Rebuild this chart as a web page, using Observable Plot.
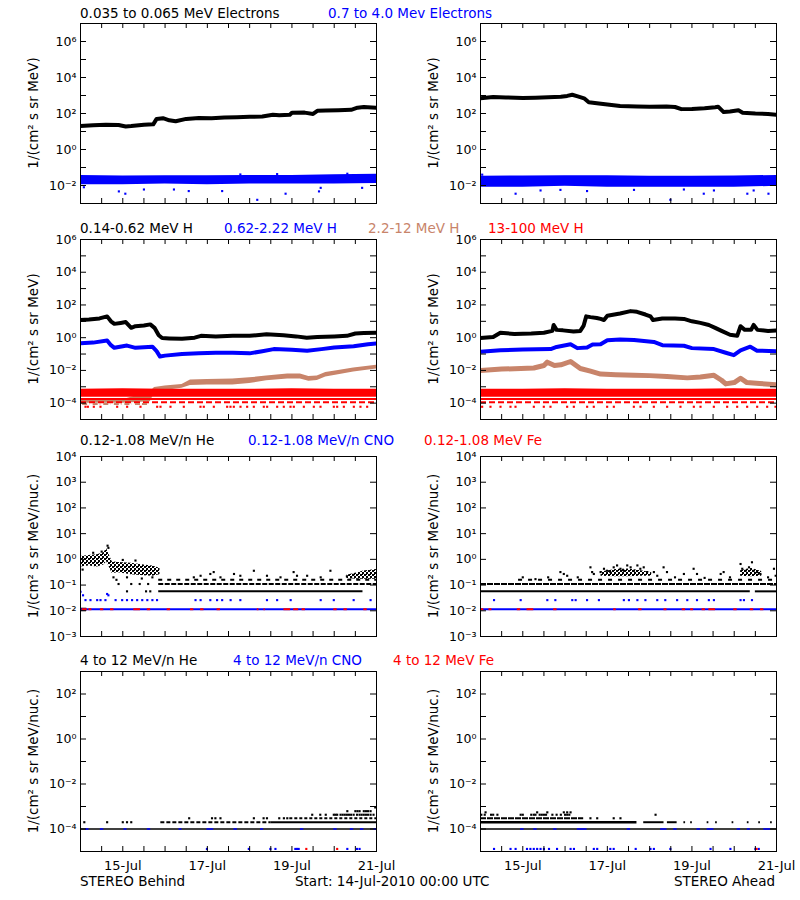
<!DOCTYPE html>
<html><head><meta charset="utf-8">
<script src="https://cdn.jsdelivr.net/npm/d3@7"></script>
<script src="https://cdn.jsdelivr.net/npm/@observablehq/plot@0.6"></script>
<style>
body{margin:0;background:#fff;}
#root{position:relative;width:800px;height:900px;background:#fff;overflow:hidden;}
</style></head><body>
<svg width="0" height="0" style="position:absolute">
  <defs>
    <pattern id="speckle" width="4" height="4" patternUnits="userSpaceOnUse">
      <rect x="0" y="0" width="2" height="2" fill="#000"/>
      <rect x="2" y="2" width="2" height="2" fill="#000"/>
      <rect x="2" y="0" width="1" height="1" fill="#000"/>
    </pattern>
  </defs>
</svg>
<div id="root"></div><script>
// ---------------- DATA ----------------
// time axis: days since 14-Jul-2010 00:00 UTC
const xMinorDays = [0.5,1,1.5,2,2.5,3,3.5,4,4.5,5,5.5,6,6.5];
const xLabelDays = [1,3,5,7];
const xLabelText = ["15-Jul","17-Jul","19-Jul","21-Jul"];

// Row 1 : electrons
const bLoEDays = [0,0.3,0.6,0.9,1.07,1.2,1.5,1.72,1.8,1.95,2.1,2.25,2.5,2.8,3.1,3.4,3.7,4.0,4.3,4.55,4.7,4.95,5.0,5.3,5.5,5.6,5.8,6.1,6.4,6.55,6.7,7.0];
const bLoEFlux = [20,22,24,23,19,20,24,25,50,55,42,37,50,57,55,60,62,65,68,85,80,85,110,112,95,140,145,150,160,210,230,205];
const bHiEDays = [0,1,2,3,4,5,6,7];
const bHiELo = [0.011,0.011,0.012,0.011,0.012,0.012,0.012,0.013];
const bHiEHi = [0.036,0.034,0.035,0.035,0.036,0.036,0.04,0.042];
const bHiEOutDays = [0.08,0.907,1.06,1.50,2.21,2.56,3.35,3.78,4.18,4.65,4.85,5.64,5.68,6.31,6.66];
const bHiEOutFlux = [0.008,0.0047,0.0035,0.006,0.006,0.0049,0.0049,0.041,0.0016,0.043,0.0035,0.0047,0.0074,0.045,0.0074];

const aLoEDays = [0,0.3,0.6,1.0,1.3,1.6,1.9,2.05,2.17,2.3,2.45,2.56,2.8,3.0,3.3,3.7,4.0,4.4,4.6,4.75,5.0,5.3,5.55,5.62,5.75,5.9,6.1,6.2,6.5,6.8,7.0];
const aLoEFlux = [700,820,780,720,760,800,850,950,1100,900,700,420,360,320,260,245,240,245,230,175,180,195,225,240,120,130,150,110,100,95,85];
const aHiEDays = [0,1,2,3,4,5,6,7];
const aHiELo = [0.008,0.008,0.009,0.008,0.008,0.008,0.008,0.009];
const aHiEHi = [0.033,0.034,0.035,0.035,0.033,0.033,0.034,0.036];
const aHiEOutDays = [0.04,0.83,1.42,1.89,2.52,3.63,4.49,4.81,5.28,5.52,6.31,6.46,6.81];
const aHiEOutFlux = [0.04,0.0035,0.0053,0.0057,0.0049,0.0057,0.0016,0.006,0.0035,0.0053,0.0035,0.0053,0.0035];

// Row 2 : protons
const bH1Days = [0,0.2,0.45,0.63,0.72,0.8,0.95,1.07,1.2,1.3,1.5,1.65,1.75,1.85,1.93,2.1,2.4,2.7,2.85,3.2,3.6,4.0,4.4,4.8,5.1,5.35,5.6,6.0,6.3,6.5,6.7,7.0];
const bH1Flux = [12,13,15,20,10,7,8,9,4,5,5.5,6.5,4,1.4,0.95,0.9,0.85,1.0,1.3,1.2,1.3,1.3,1.6,1.4,1.2,1.0,1.1,1.2,1.3,1.8,1.9,2.0];
const bH2Days = [0,0.3,0.63,0.72,0.8,1.0,1.1,1.3,1.7,1.8,1.88,2.0,2.4,2.8,3.2,3.6,4.0,4.3,4.57,5.0,5.36,5.7,6.0,6.46,6.8,7.0];
const bH2Flux = [0.45,0.5,0.68,0.35,0.24,0.3,0.33,0.24,0.28,0.15,0.07,0.08,0.1,0.11,0.12,0.12,0.11,0.15,0.2,0.18,0.16,0.2,0.25,0.3,0.4,0.45];
const bH3Days = [0,1.0,1.65,1.75,2.0,2.4,2.6,3.0,3.6,4.0,4.4,4.9,5.2,5.4,5.6,5.8,6.1,6.46,7.0];
const bH3Lo = [1e-4,1e-4,1.2e-4,4e-4,6e-4,8e-4,1.2e-3,1.3e-3,1.3e-3,1.6e-3,2.3e-3,3e-3,3e-3,2.2e-3,2.4e-3,4e-3,5.5e-3,8e-3,1.2e-2];
const bH3Hi = [1.6e-4,1.6e-4,5e-4,9e-4,1.1e-3,1.4e-3,2.6e-3,2.8e-3,3e-3,3.5e-3,4.5e-3,6e-3,6e-3,4.2e-3,4.5e-3,7.5e-3,1e-2,1.4e-2,2.1e-2];
const bH3LowStart = [0.05,0.3,0.55,0.8,1.05,1.3];
const bH3LowEnd   = [0.22,0.48,0.72,0.98,1.22,1.6];
const bH4Days = [0,1,2,3,4,5,6,7];
const bH4Lo = [2.3e-4,2.3e-4,2.3e-4,2.3e-4,2.3e-4,2.3e-4,2.3e-4,2.3e-4];
const bH4Hi = [7e-4,7.5e-4,7e-4,7e-4,7e-4,7.5e-4,7e-4,7e-4];
const bH4LowDays = [0.118,0.174,0.315,0.473,0.867,1.103,1.419,1.813,1.892,2.128,2.443,2.837,2.916,3.153,3.468,3.547,3.626,3.784,3.941,4.099,4.335,4.414,4.651,4.808,4.966,5.045,5.282,5.518,5.676,5.991,6.070,6.228,6.464,6.621,6.779];

const aH1Days = [0,0.3,0.47,0.8,1.2,1.5,1.7,1.73,1.8,1.95,2.2,2.36,2.44,2.5,2.6,2.75,2.84,2.92,3.0,3.3,3.55,3.7,3.9,4.02,4.08,4.3,4.6,4.81,5.0,5.2,5.4,5.55,5.7,5.9,6.07,6.15,6.25,6.4,6.46,6.55,6.8,7.0];
const aH1Flux = [0.95,1.1,2.0,1.7,1.8,2.0,2.6,6,3,2.8,2.4,2.6,5.5,20,18,16,14,12,22,30,42,38,26,20,12,15,15,14,10,8,6,4,2.6,1.5,1.3,5,3,3,6,3,2.6,2.8];
const aH2Days = [0,0.47,1.0,1.66,1.8,2.13,2.29,2.52,2.65,2.84,3.0,3.3,3.63,4.1,4.3,4.81,5.0,5.52,5.8,5.99,6.15,6.38,6.54,7.0];
const aH2Flux = [0.14,0.17,0.19,0.2,0.27,0.4,0.23,0.25,0.38,0.4,0.7,0.78,0.72,0.55,0.35,0.32,0.23,0.2,0.12,0.085,0.17,0.28,0.16,0.15];
const aH3Days = [0,0.5,1.26,1.5,1.58,1.75,1.9,2.13,2.36,2.6,2.84,3.2,3.63,4.0,4.41,4.89,5.2,5.52,5.7,5.8,6.0,6.15,6.3,6.6,7.0];
const aH3Flux = [0.0098,0.012,0.014,0.02,0.032,0.02,0.022,0.035,0.013,0.009,0.006,0.0055,0.005,0.0048,0.0042,0.0035,0.004,0.005,0.0025,0.0015,0.0018,0.0033,0.0018,0.0016,0.0013];
const aH4Days = [0,1,2,3,4,5,6,7];
const aH4Lo = [2.3e-4,2.3e-4,2.3e-4,2.3e-4,2.3e-4,2.3e-4,2.3e-4,2.3e-4];
const aH4Hi = [7e-4,7e-4,7.5e-4,7e-4,7e-4,7e-4,7.5e-4,7e-4];
const aH4LowDays = [0.039,0.236,0.473,0.709,0.828,1.261,1.497,1.655,2.049,2.207,2.522,2.679,2.995,3.153,3.626,3.784,4.099,4.414,4.729,5.045,5.203,5.518,5.833,6.070,6.306,6.543,6.779,6.976];
const hRedLevels = [1.8e-4, 1.15e-4, 6e-5, 9e-5];

// Row 3 : 0.12-1.08 MeV/n ions
const loIonLevels = [0.057, 0.11, 0.16, 0.026, 0.0115];
const bHeCloudDays = [0,0.2,0.4,0.55,0.62,0.68,0.75,0.9,1.2,1.5,1.7,1.88];
const bHeCloudLo = [0.5,0.55,0.5,0.6,0.8,0.5,0.28,0.3,0.25,0.23,0.22,0.25];
const bHeCloudHi = [1.3,1.4,1.5,1.8,2.6,1.5,0.8,0.75,0.7,0.6,0.55,0.45];
const bHeEndDays = [6.3,6.55,6.7,7.0];
const bHeEndLo = [0.18,0.17,0.17,0.17];
const bHeEndHi = [0.24,0.3,0.35,0.4];
const bHeDotDays = [0.05,0.3,0.5,0.64,0.66,0.78,0.85,1.0,1.1,1.3,1.45,1.7,0.9,1.2,1.4,1.6,1.1,1.55,1.65,2.68,2.84,3.07,3.15,3.31,3.63,3.78,4.1,4.41,4.73,5.04,5.12,5.36,5.68,5.91,6.3,6.4,6.45];
const bHeDotFlux = [0.4,1.8,2.0,3.4,2.8,0.2,0.16,0.95,0.2,0.9,0.18,0.2,0.11,0.11,0.11,0.11,0.057,0.057,0.057,0.2,0.23,0.27,0.32,0.2,0.27,0.23,0.36,0.23,0.2,0.32,0.23,0.23,0.2,0.36,0.22,0.2,0.25];
const bCnoDotDays = [0.118,0.236,0.394,0.473,0.59,0.83,0.985,1.10,1.22,1.34,1.46,1.58,1.70,1.81,2.72,2.84,3.07,3.23,3.35,3.55,3.78,4.41,4.65,4.97,5.68,5.99,6.46,6.86];
const bCnoExtraDays = [0.0,0.06,0.63,0.66];
const bCnoExtraFlux = [0.055,0.04,0.045,0.04];
const bFeStart = [0.04,0.2,0.47,0.71,1.26,1.58,2.05,2.6,2.84,3.23,4.18,4.34,4.81,5.04,5.24,5.99,6.23,6.7];
const bFeEnd   = [0.16,0.27,0.55,0.79,1.42,1.66,2.13,2.68,2.92,3.31,4.22,4.37,4.97,5.16,5.32,6.07,6.31,6.78];

const aHeDotDays = [1.89,1.97,2.05,2.60,2.64,2.68,2.84,2.92,2.99,3.07,3.15,3.23,3.31,3.39,3.47,3.55,3.63,3.71,3.78,3.86,3.94,4.10,4.18,4.33,4.41,4.81,5.04,5.12,5.68,5.75,6.15,6.19,6.27,6.35,6.42,6.46,6.54,6.62,6.94,6.98,1.0,1.3,1.6,2.3,4.6,5.3,5.9,6.8];
const aHeDotFlux = [0.32,0.27,0.23,0.49,0.32,0.27,0.32,0.43,0.36,0.32,0.49,0.58,0.43,0.36,0.58,0.49,0.36,0.58,0.43,0.49,0.32,0.32,0.23,0.49,0.32,0.27,0.43,0.27,0.27,0.32,0.66,0.43,0.36,0.49,0.77,0.36,0.32,0.27,0.43,0.23,0.2,0.17,0.2,0.2,0.2,0.19,0.2,0.2];
const aHeCloudDays = [2.85,3.2,3.5,3.8,4.05];
const aHeCloudLo = [0.22,0.21,0.21,0.22,0.22];
const aHeCloudHi = [0.32,0.4,0.42,0.36,0.3];
const aHeCloud2Days = [6.15,6.4,6.65];
const aHeCloud2Lo = [0.22,0.21,0.22];
const aHeCloud2Hi = [0.36,0.45,0.34];
const aCnoDotDays = [0.32,0.95,1.58,1.77,2.17,2.25,2.52,2.8,3.39,3.51,3.71,3.9,4.18,4.37,4.65,4.89,5.12,5.4,5.52,6.15,6.23,6.42];
const aFeStart = [0,0.2,0.87,1.1,1.73,3.15,3.74,4.34,4.77,4.97,5.24,5.4,5.99,6.38,6.62];
const aFeEnd   = [0.08,0.27,0.95,1.26,1.81,3.21,3.82,4.41,4.85,5.04,5.32,5.56,6.07,6.46,6.7];

// Row 4 : 4-12 MeV/n ions
const hiIonLevels = [1e-4, 2e-4, 3e-4, 4.3e-4, 6.2e-4, 1.3e-5, 5.5e-4];
const bHe4Lvl2Dots = [0.09,0.63,1.0,1.1,1.2];
const bHe4Lvl3Dots = [2.57,3.11,3.19,3.31,4.1,4.33,4.41,4.7,4.81,4.89];
const bHe4Lvl4Dots = [5.48,5.67,5.8,5.99,6.03,6.07,6.15,6.2,6.25,6.3,6.35,6.4,6.46,6.54,6.6,6.65,6.7,6.75,6.8,6.86,6.93];
const bHe4Lvl5Dots = [6.31,6.5,6.55,6.6,6.7,6.75,6.8,6.86];
const bHe4TopDays = [6.97];
const bHe4TopFlux = [9e-4];
const bCno4Start = [0.12,0.47,1.03,1.58,2.33,2.99,3.63,4.26,5.2,5.99,6.38,6.62,6.94];
const bCno4End   = [0.2,0.55,1.1,1.66,2.4,3.15,3.71,4.33,5.28,6.07,6.46,6.7,7.0];
const bCno4LowDays = [2.99,3.98,4.49,4.61,5.08,5.12,5.16,6.31,6.54,6.6];
const bFe4LowDays = [5.34,6.07];

const aHe4Lvl2Start = [3.86,4.42,4.81,4.97,5.36,5.56,5.95,6.31,6.58,6.86];
const aHe4Lvl2End   = [4.34,4.65,4.85,5.01,5.4,5.6,5.99,6.35,6.62,6.9];
const aHe4Lvl3Dots = [2.6,2.76,3.15,3.31];
const aHe4Lvl4Dots = [0.02,0.1,0.25,0.3,0.4,0.95,1.0,1.2,1.26,1.3,1.4,1.45,1.5,1.55,1.7,1.8,1.9,2.0,2.05,2.1,4.14];
const aHe4Lvl5Dots = [0.12,1.34,1.58,1.97,2.05,2.13];
const aCno4Start = [0.95,1.26,1.73,2.29,3.47,4.26,4.57,5.12,5.36,6.07,6.31,6.7];
const aCno4End   = [1.03,1.34,1.81,2.52,3.55,4.41,4.65,5.2,5.52,6.15,6.38,6.86];
const aCno4LowDays = [0.32,0.71,0.83,1.1,1.18,1.26,1.34,1.42,1.5,1.62,1.81,2.13,2.21,2.68,2.76,3.07,3.15,3.67,4.02,4.1,4.49,5.44,5.91,6.5,6.58];
const aFe4LowDays = [6.53];

// ---------------- DRAWING ----------------
const FONT = "'DejaVu Sans', sans-serif";
const BLUE = "#0000ff", RED = "#ff0000", BROWN = "#c8846a", BLACK = "#000000";
const SPECKLE = "url(#speckle)";
const SUP = {"0":"⁰","1":"¹","2":"²","3":"³","4":"⁴","5":"⁵","6":"⁶","7":"⁷","8":"⁸","9":"⁹","-":"⁻"};
const pow10 = e => "10" + String(e).split("").map(c => SUP[c]).join("");
const range = (a, b) => d3.range(a, b + 1);

const pts = (days, vals) => days.map((d, i) => ({d, v: vals[i]}));
const line = (days, vals, stroke, w) => Plot.line(pts(days, vals), {x: "d", y: "v", stroke, strokeWidth: w, clip: true});
const band = (days, lo, hi, fill) => Plot.areaY(days.map((d, i) => ({d, lo: lo[i], hi: hi[i]})), {x: "d", y1: "lo", y2: "hi", fill, clip: true});
const dots = (days, vals, fill) => Plot.dot(pts(days, vals), {x: "d", y: "v", fill, symbol: "square", r: 1.2, clip: true});
const dotsAt = (level, days, fill) => Plot.dot(days.map(d => ({d, v: level})), {x: "d", y: "v", fill, symbol: "square", r: 1.2, clip: true});
const seg = (level, starts, ends, stroke, w, dash) => Plot.ruleY(starts.map((a, i) => ({a, b: ends[i], v: level})), {y: "v", x1: "a", x2: "b", stroke, strokeWidth: w, strokeDasharray: dash, clip: true});

const root = document.getElementById("root");
const ROW_TOP = [23, 239, 456, 671];

function panel({col, row, domain, tickExp, labelExp, yTitle, marks, bottom}) {
  const mT = 10, mB = bottom ? 40 : 10;
  const svg = Plot.plot({
    width: 400, height: 180 + mT + mB,
    marginLeft: 80, marginRight: 24, marginTop: mT, marginBottom: mB,
    style: {fontFamily: FONT, fontSize: "12px", color: "black", background: "white"},
    x: {domain: [0, 7], axis: bottom ? undefined : null},
    y: {type: "log", domain},
    marks: [
      ...marks,
      Plot.tickY(tickExp.map(e => 10 ** e), {y: d => d, insetRight: 290, stroke: "black"}),
      Plot.tickY(tickExp.map(e => 10 ** e), {y: d => d, insetLeft: 290, stroke: "black"}),
      Plot.tickX(xMinorDays, {x: d => d, insetTop: 175, stroke: "black"}),
      Plot.tickX(xMinorDays, {x: d => d, insetBottom: 175, stroke: "black"}),
      Plot.frame({stroke: "black"}),
      Plot.axisY(labelExp.map(e => 10 ** e), {tickSize: 0, tickPadding: 4, label: null, fontSize: 12.5,
        tickFormat: v => pow10(Math.round(Math.log10(v)))}),
      ...(bottom ? [Plot.axisX(xLabelDays, {tickSize: 0, tickPadding: 9, label: null, fontSize: 13,
        tickFormat: d => xLabelText[xLabelDays.indexOf(d)]})] : [])
    ]
  });
  d3.select(svg).append("text")
    .attr("transform", `translate(33,${mT + 90}) rotate(-90)`)
    .attr("text-anchor", "middle").attr("dominant-baseline", "central")
    .attr("font-family", FONT).attr("font-size", "13.5px").attr("fill", "black")
    .text(yTitle);
  svg.style.position = "absolute";
  svg.style.left = (col * 400) + "px";
  svg.style.top = (ROW_TOP[row] - mT) + "px";
  root.appendChild(svg);
}

const T1 = "1/(cm² s sr MeV)";
const T2 = "1/(cm² s sr MeV/nuc.)";

// Row 1
panel({col: 0, row: 0, domain: [1e-3, 1e7], tickExp: range(-2, 6), labelExp: [-2, 0, 2, 4, 6], yTitle: T1,
  marks: [band(bHiEDays, bHiELo, bHiEHi, BLUE), dots(bHiEOutDays, bHiEOutFlux, BLUE), line(bLoEDays, bLoEFlux, BLACK, 4)]});
panel({col: 1, row: 0, domain: [1e-3, 1e7], tickExp: range(-2, 6), labelExp: [-2, 0, 2, 4, 6], yTitle: T1,
  marks: [band(aHiEDays, aHiELo, aHiEHi, BLUE), dots(aHiEOutDays, aHiEOutFlux, BLUE), line(aLoEDays, aLoEFlux, BLACK, 4)]});

// Row 2
panel({col: 0, row: 1, domain: [1e-5, 1e6], tickExp: range(-4, 5), labelExp: [-4, -2, 0, 2, 4, 6], yTitle: T1,
  marks: [
    band(bH3Days, bH3Lo, bH3Hi, BROWN),
    band(bH4Days, bH4Lo, bH4Hi, RED),
    seg(hRedLevels[0], [0], [7], RED, 2, null),
    seg(hRedLevels[1], [0], [7], RED, 2, "6,3"),
    seg(hRedLevels[3], bH3LowStart, bH3LowEnd, BROWN, 2, "5,2"),
    dotsAt(hRedLevels[2], bH4LowDays, RED),
    line(bH2Days, bH2Flux, BLUE, 4),
    line(bH1Days, bH1Flux, BLACK, 4)
  ]});
panel({col: 1, row: 1, domain: [1e-5, 1e6], tickExp: range(-4, 5), labelExp: [-4, -2, 0, 2, 4, 6], yTitle: T1,
  marks: [
    line(aH3Days, aH3Flux, BROWN, 5),
    band(aH4Days, aH4Lo, aH4Hi, RED),
    seg(hRedLevels[0], [0], [7], RED, 2, null),
    seg(hRedLevels[1], [0], [7], RED, 2, "6,3"),
    dotsAt(hRedLevels[2], aH4LowDays, RED),
    line(aH2Days, aH2Flux, BLUE, 4),
    line(aH1Days, aH1Flux, BLACK, 4)
  ]});

// Row 3
panel({col: 0, row: 2, domain: [1e-3, 1e4], tickExp: range(-2, 3), labelExp: range(-3, 4), yTitle: T2,
  marks: [
    seg(loIonLevels[4], [0], [0.15], BLACK, 3, null),
    seg(loIonLevels[4], [0], [7], BLUE, 2, null),
    seg(loIonLevels[4], bFeStart, bFeEnd, RED, 2, null),
    dotsAt(loIonLevels[3], bCnoDotDays, BLUE),
    dots(bCnoExtraDays, bCnoExtraFlux, BLUE),
    seg(loIonLevels[0], [1.85], [6.68], BLACK, 2, null),
    seg(loIonLevels[1], [1.85], [7], BLACK, 2, "5,1.5"),
    seg(loIonLevels[2], [1.85], [7], BLACK, 2, "4,5"),
    band(bHeCloudDays, bHeCloudLo, bHeCloudHi, SPECKLE),
    band(bHeEndDays, bHeEndLo, bHeEndHi, SPECKLE),
    dots(bHeDotDays, bHeDotFlux, BLACK)
  ]});
panel({col: 1, row: 2, domain: [1e-3, 1e4], tickExp: range(-2, 3), labelExp: range(-3, 4), yTitle: T2,
  marks: [
    seg(loIonLevels[4], [0], [7], BLUE, 2, null),
    seg(loIonLevels[4], aFeStart, aFeEnd, RED, 2, null),
    dotsAt(loIonLevels[3], aCnoDotDays, BLUE),
    seg(loIonLevels[0], [0, 6.5], [6.38, 7], BLACK, 2, null),
    seg(loIonLevels[1], [0], [7], BLACK, 2, "6,1"),
    seg(loIonLevels[2], [0.9], [7], BLACK, 2, "4,6"),
    band(aHeCloudDays, aHeCloudLo, aHeCloudHi, SPECKLE),
    band(aHeCloud2Days, aHeCloud2Lo, aHeCloud2Hi, SPECKLE),
    dots(aHeDotDays, aHeDotFlux, BLACK)
  ]});

// Row 4
panel({col: 0, row: 3, domain: [1e-5, 1e3], tickExp: range(-4, 2), labelExp: [-4, -2, 0, 2], yTitle: T2, bottom: true,
  marks: [
    seg(hiIonLevels[0], [0], [7], BLACK, 1.5, null),
    seg(hiIonLevels[0], bCno4Start, bCno4End, BLUE, 1.5, null),
    dotsAt(hiIonLevels[1], bHe4Lvl2Dots, BLACK),
    seg(hiIonLevels[1], [1.9], [4.5], BLACK, 2, "4,2"),
    seg(hiIonLevels[1], [4.5], [7], BLACK, 2, null),
    dotsAt(hiIonLevels[2], bHe4Lvl3Dots, BLACK),
    seg(hiIonLevels[2], [4.95], [7], BLACK, 2, "3,2"),
    dotsAt(hiIonLevels[3], bHe4Lvl4Dots, BLACK),
    dotsAt(hiIonLevels[4], bHe4Lvl5Dots, BLACK),
    dots(bHe4TopDays, bHe4TopFlux, BLACK),
    dotsAt(hiIonLevels[5], bCno4LowDays, BLUE),
    dotsAt(hiIonLevels[5], bFe4LowDays, RED)
  ]});
panel({col: 1, row: 3, domain: [1e-5, 1e3], tickExp: range(-4, 2), labelExp: [-4, -2, 0, 2], yTitle: T2, bottom: true,
  marks: [
    seg(hiIonLevels[0], [0], [7], BLACK, 1.5, null),
    seg(hiIonLevels[0], aCno4Start, aCno4End, BLUE, 1.5, null),
    seg(hiIonLevels[1], [0], [3.7], BLACK, 2.5, null),
    seg(hiIonLevels[1], aHe4Lvl2Start, aHe4Lvl2End, BLACK, 2, null),
    seg(hiIonLevels[2], [0], [2.44], BLACK, 2, "6,1"),
    dotsAt(hiIonLevels[2], aHe4Lvl3Dots, BLACK),
    dotsAt(hiIonLevels[3], aHe4Lvl4Dots, BLACK),
    dotsAt(hiIonLevels[6], aHe4Lvl5Dots, BLACK),
    dotsAt(hiIonLevels[5], aCno4LowDays, BLUE),
    dotsAt(hiIonLevels[5], aFe4LowDays, RED)
  ]});

// ---------------- TEXT OVERLAY ----------------
const titles = [
  {x: 80, y: 18, c: BLACK, t: "0.035 to 0.065 MeV Electrons"},
  {x: 328, y: 18, c: BLUE, t: "0.7 to 4.0 Mev Electrons"},
  {x: 80, y: 233, c: BLACK, t: "0.14-0.62 MeV H"},
  {x: 224, y: 233, c: BLUE, t: "0.62-2.22 MeV H"},
  {x: 368, y: 233, c: BROWN, t: "2.2-12 MeV H"},
  {x: 488, y: 233, c: RED, t: "13-100 MeV H"},
  {x: 80, y: 445, c: BLACK, t: "0.12-1.08 MeV/n He"},
  {x: 248, y: 445, c: BLUE, t: "0.12-1.08 MeV/n CNO"},
  {x: 424, y: 445, c: RED, t: "0.12-1.08 MeV Fe"},
  {x: 80, y: 665, c: BLACK, t: "4 to 12 MeV/n He"},
  {x: 233, y: 665, c: BLUE, t: "4 to 12 MeV/n CNO"},
  {x: 393, y: 665, c: RED, t: "4 to 12 MeV Fe"},
  {x: 80, y: 886, c: BLACK, t: "STEREO Behind"},
  {x: 295, y: 886, c: BLACK, t: "Start: 14-Jul-2010 00:00 UTC"},
  {x: 775, y: 886, c: BLACK, t: "STEREO Ahead", a: "end"}
];
const over = d3.create("svg").attr("width", 800).attr("height", 900)
  .style("position", "absolute").style("left", "0px").style("top", "0px").style("pointer-events", "none");
over.selectAll("text").data(titles).join("text")
  .attr("x", d => d.x).attr("y", d => d.y).attr("fill", d => d.c)
  .attr("text-anchor", d => d.a || "start")
  .attr("font-family", FONT).attr("font-size", "13.5px").style("white-space", "pre")
  .text(d => d.t);
root.appendChild(over.node());
</script></body></html>
